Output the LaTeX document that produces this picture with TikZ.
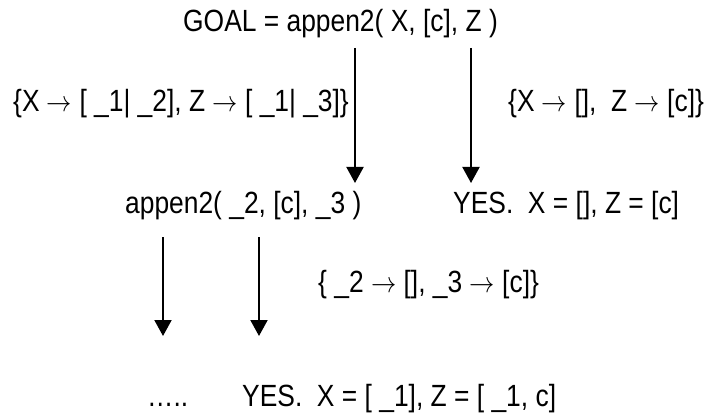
\documentclass[tikz,border=0pt]{standalone}
\usepackage{fontspec}
\setmainfont{Liberation Sans}
\usetikzlibrary{arrows.meta}
\newcommand{\stretchtxt}[1]{\scalebox{1.015}[1.18]{#1}}
\begin{document}
\begin{tikzpicture}[x=1pt,y=-1pt,
  txt/.style={anchor=base west,inner sep=0pt,font=\fontsize{26}{30}\selectfont},
  conn/.style={line width=2pt,-{Triangle[width=17pt,length=16pt]}}]
\useasboundingbox (0,0) rectangle (709,414);
% texts
\node[txt] (goal) at (183,32) {\stretchtxt{GOAL = appen2( X, [c], Z )}};
\node[txt] (lab1) at (13,112) {\stretchtxt{\{X $\rightarrow$ [ \_1| \_2], Z $\rightarrow$ [ \_1| \_3]\}}};
\node[txt] (lab2) at (508,112) {\stretchtxt{\{X $\rightarrow$ [],\ \ Z $\rightarrow$ [c]\}}};
\node[txt] (sub) at (125,214) {\stretchtxt{appen2( \_2, [c], \_3 )}};
\node[txt] (yes1) at (453,214) {\stretchtxt{YES.\ \ X = [], Z = [c]}};
\node[txt] (lab3) at (318,292) {\stretchtxt{\{ \_2 $\rightarrow$ [], \_3 $\rightarrow$ [c]\}}};
\node[txt] (dots) at (147,406) {\stretchtxt{\dots..}};
\node[txt] (yes2) at (242,406) {\stretchtxt{YES.\ \ X = [ \_1], Z = [ \_1, c]}};
% connector ends
\coordinate (a1s) at (355,48);
\coordinate (a1e) at (355,183);
\coordinate (a2s) at (471,48);
\coordinate (a2e) at (471,183);
\coordinate (a3s) at (163,237);
\coordinate (a3e) at (163,336);
\coordinate (a4s) at (259,237);
\coordinate (a4e) at (259,336);
\draw[conn] (a1s) -- (a1e);
\draw[conn] (a2s) -- (a2e);
\draw[conn] (a3s) -- (a3e);
\draw[conn] (a4s) -- (a4e);
\end{tikzpicture}
\end{document}
